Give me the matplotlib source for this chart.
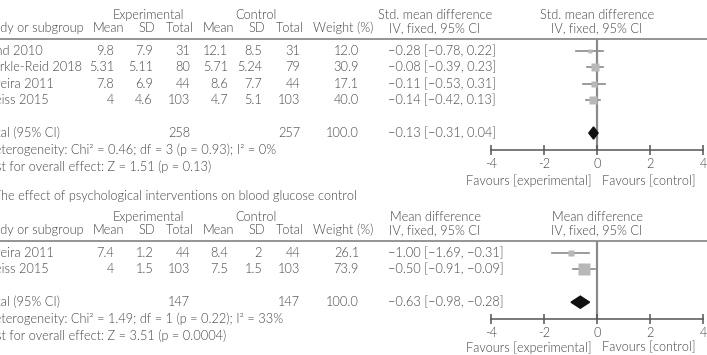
import numpy as np
import matplotlib
matplotlib.use("Agg")
import matplotlib.pyplot as plt
from matplotlib.patches import Polygon

plt.rcParams['font.family'] = ['Lato', 'DejaVu Sans']
plt.rcParams['font.weight'] = 300
plt.rcParams['axes.unicode_minus'] = False

# ---- panel A: standardised mean difference ----
a_names = ["Lund 2010", "Markle-Reid 2018", "Pereira 2011", "Weiss 2015"]
a_exp_mean = [9.8, 5.31, 7.8, 4]
a_exp_sd = [7.9, 5.11, 6.9, 4.6]
a_exp_n = [31, 80, 44, 103]
a_ctl_mean = [12.1, 5.71, 8.6, 4.7]
a_ctl_sd = [8.5, 5.24, 7.7, 5.1]
a_ctl_n = [31, 79, 44, 103]
a_weight = [12.0, 30.9, 17.1, 40.0]
a_est = [-0.28, -0.08, -0.11, -0.14]
a_lo = [-0.78, -0.39, -0.53, -0.42]
a_hi = [0.22, 0.23, 0.31, 0.13]
a_total = [258, 257, 100.0]
a_pooled = [-0.13, -0.31, 0.04]
a_het = "Heterogeneity: Chi\u00b2 = 0.46; df = 3 (p = 0.93); I\u00b2 = 0%"
a_test = "Test for overall effect: Z = 1.51 (p = 0.13)"

# ---- panel B: mean difference ----
b_title = "B. The effect of psychological interventions on blood glucose control"
b_names = ["Pereira 2011", "Weiss 2015"]
b_exp_mean = [7.4, 4]
b_exp_sd = [1.2, 1.5]
b_exp_n = [44, 103]
b_ctl_mean = [8.4, 7.5]
b_ctl_sd = [2, 1.5]
b_ctl_n = [44, 103]
b_weight = [26.1, 73.9]
b_est = [-1.00, -0.50]
b_lo = [-1.69, -0.91]
b_hi = [-0.31, -0.09]
b_total = [147, 147, 100.0]
b_pooled = [-0.63, -0.98, -0.28]
b_het = "Heterogeneity: Chi\u00b2 = 1.49; df = 1 (p = 0.22); I\u00b2 = 33%"
b_test = "Test for overall effect: Z = 3.51 (p = 0.0004)"

ticks = [-4, -2, 0, 2, 4]

W, H = 707, 355
TXT = '#444444'
FS = 9.2
ROW = 16.4


def m(v):
    return f"{v:.2f}".replace('-', '\u2212')


fig = plt.figure(figsize=(W / 100, H / 100), dpi=100)
bg = fig.add_axes([0, 0, 1, 1])
bg.set_xlim(0, W)
bg.set_ylim(H, 0)
bg.axis('off')


def txt(x, y, s, ha='left', **kw):
    bg.text(x, y, s, ha=ha, va='center', fontsize=FS, color=TXT, **kw)


def panel(top, names, em, es, en, cm, cs, cn, wt, est, lo, hi, total, pooled,
          het, test, effname, fav_gap):
    n = len(names)
    rule = top + 24
    row0 = top + 36
    tot_y = row0 + (n + 1) * ROW
    axis_y = tot_y + 17

    # headers
    txt(148, top, "Experimental", ha='center')
    txt(256, top, "Control", ha='center')
    txt(435, top, effname, ha='center')
    txt(597, top, effname, ha='center')
    h2 = top + 13
    txt(-18, h2, "Study or subgroup")
    for x, s in [(108, "Mean"), (147, "SD"), (180, "Total"), (218, "Mean"),
                 (257, "SD"), (290, "Total"), (343, "Weight (%)"),
                 (435, "IV, fixed, 95% CI"), (597, "IV, fixed, 95% CI")]:
        txt(x, h2, s, ha='center')
    bg.hlines(rule, 0, W, color='#777777', lw=1.1)

    for i in range(n):
        y = row0 + i * ROW
        txt(-18, y, names[i])
        txt(114, y, f"{em[i]:g}", ha='right')
        txt(153, y, f"{es[i]:g}", ha='right')
        txt(190, y, f"{en[i]}", ha='right')
        txt(228, y, f"{cm[i]:g}", ha='right')
        txt(262, y, f"{cs[i]:g}", ha='right')
        txt(300, y, f"{cn[i]}", ha='right')
        txt(359, y, f"{wt[i]:.1f}", ha='right')
        txt(388, y, f"{m(est[i])} [{m(lo[i])}, {m(hi[i])}]")

    txt(-18, tot_y, "Total (95% CI)")
    txt(190, tot_y, f"{total[0]}", ha='right')
    txt(300, tot_y, f"{total[1]}", ha='right')
    txt(359, tot_y, f"{total[2]:.1f}", ha='right')
    txt(388, tot_y, f"{m(pooled[0])} [{m(pooled[1])}, {m(pooled[2])}]")
    txt(-15, tot_y + 17, het)
    txt(-18, tot_y + 34, test)

    # forest plot axes: x from -4..4 spans pixels 491..703
    fx0, fx1 = 491, 703
    ax = fig.add_axes([fx0 / W, 1 - axis_y / H, (fx1 - fx0) / W, (axis_y - rule) / H])
    ax.set_xlim(-4, 4)
    ax.set_ylim((n + 1) + 17 / ROW, -12 / ROW)
    ax.patch.set_alpha(0)
    for sp in ['top', 'left', 'right']:
        ax.spines[sp].set_visible(False)
    ax.spines['bottom'].set_color('#555555')
    ax.spines['bottom'].set_linewidth(1.1)
    ax.set_yticks([])
    ax.set_xticks(ticks)
    ax.set_xticklabels([str(t) for t in ticks])
    ax.tick_params(axis='x', direction='inout', length=7, width=1.1, color='#555555',
                   labelsize=FS, labelcolor=TXT, pad=2)
    ax.axvline(0, color='#8a8a8a', lw=1.6, zorder=1)

    for i in range(n):
        ax.plot([lo[i], hi[i]], [i, i], color='#8a8a8a', lw=1.2, zorder=2)
        side = 1.35 * np.sqrt(wt[i])
        ax.plot(est[i], i, marker='s', ms=side * 0.72, color='#b8b8b8', mec='none', zorder=3)

    hh = 0.37
    d = Polygon([(pooled[1], n + 1), (pooled[0], n + 1 - hh), (pooled[2], n + 1),
                 (pooled[0], n + 1 + hh)], closed=True, color='#111111', zorder=4)
    ax.add_patch(d)

    fy = axis_y + fav_gap
    txt(591, fy, "Favours [experimental]", ha='right')
    txt(602, fy, "Favours [control]")


panel(15, a_names, a_exp_mean, a_exp_sd, a_exp_n, a_ctl_mean, a_ctl_sd, a_ctl_n,
      a_weight, a_est, a_lo, a_hi, a_total, a_pooled, a_het, a_test,
      "Std. mean difference", 31)

txt(-21, 196, b_title)

panel(217, b_names, b_exp_mean, b_exp_sd, b_exp_n, b_ctl_mean, b_ctl_sd, b_ctl_n,
      b_weight, b_est, b_lo, b_hi, b_total, b_pooled, b_het, b_test,
      "Mean difference", 28)

fig.savefig("out.png", dpi=100)
